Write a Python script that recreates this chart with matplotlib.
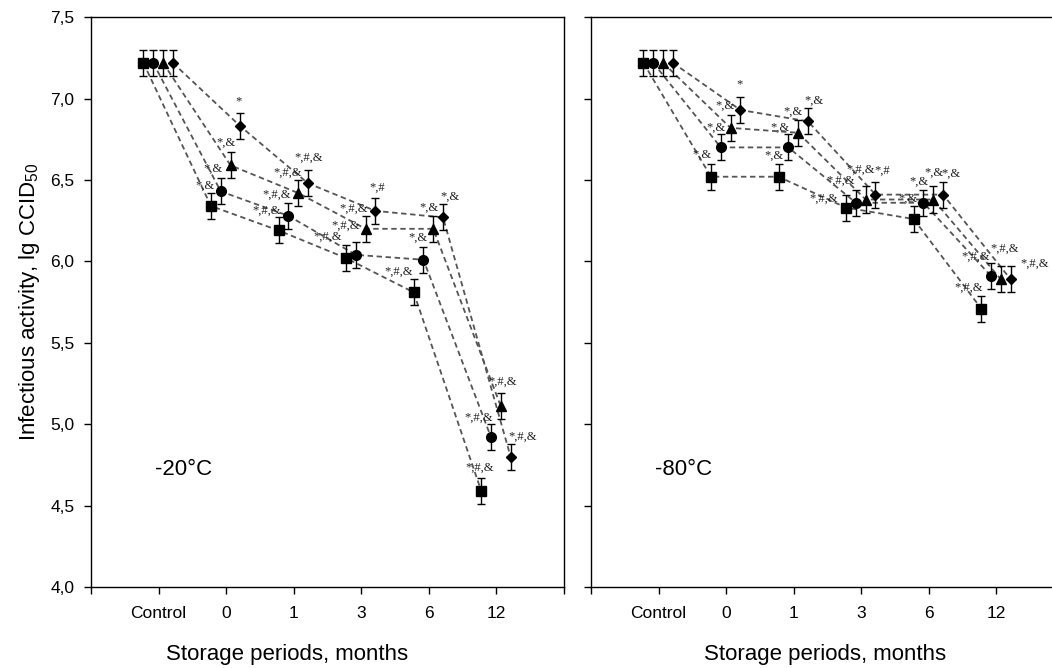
import matplotlib.pyplot as plt
import numpy as np

plt.rcParams['font.family'] = ['Liberation Sans', 'DejaVu Sans']
plt.rcParams['mathtext.fontset'] = 'custom'
plt.rcParams['mathtext.rm'] = 'Liberation Sans'

periods = ['Control', '0', '1', '3', '6', '12']

# storage at -20 C
m20_square = [7.22, 6.34, 6.19, 6.02, 5.81, 4.59]
m20_circle = [7.22, 6.43, 6.28, 6.04, 6.01, 4.92]
m20_triangle = [7.22, 6.59, 6.42, 6.20, 6.20, 5.11]
m20_diamond = [7.22, 6.83, 6.48, 6.31, 6.27, 4.80]

# storage at -80 C
m80_square = [7.22, 6.52, 6.52, 6.33, 6.26, 5.71]
m80_circle = [7.22, 6.70, 6.70, 6.36, 6.36, 5.91]
m80_triangle = [7.22, 6.82, 6.79, 6.38, 6.38, 5.89]
m80_diamond = [7.22, 6.93, 6.86, 6.41, 6.41, 5.89]

err = 0.08

# significance marks
m20_marks = [
    ['', '*,&', '*,#,&', '*,#,&', '*,#,&', '*,#,&'],
    ['', '*,&', '*,#,&', '*,#,&', '*,&', '*,#,&'],
    ['', '*,&', '*,#,&', '*,#,&', '*,&', '*,#,&'],
    ['', '*', '*,#,&', '*,#', '*,&', '*,#,&'],
]
m80_marks = [
    ['', '*,&', '*,&', '*,#,&', '*,&', '*,#,&'],
    ['', '*,&', '*,&', '*,#,&', '*,&', '*,#,&'],
    ['', '*,&', '*,&', '*,#,&', '*,&', '*,#,&'],
    ['', '*', '*,&', '*,#', '*,&', '*,#,&'],
]

# label offsets from the point, in pixels
m20_offsets = [
    [None, (-6, 20), (-11.5, 20), (-18.5, 21), (-14.5, 21), (-2, 23)],
    [None, (-8, 23), (-11.5, 21), (-10, 29), (-5.5, 22), (-12, 19)],
    [None, (-4.5, 23), (-10, 20), (-12.5, 20), (-4, 21), (1.5, 25)],
    [None, (-2, 25), (1, 25), (1.5, 23), (6.5, 21), (12.5, 20)],
]
m80_offsets = [
    [None, (-8.5, 22), (-4.5, 21), (-22, 9), (-5.5, 20), (-12.5, 21)],
    [None, (-5, 20), (-8, 20), (-15, 22), (-4.5, 21), (-15, 19)],
    [None, (-6, 22), (-5.5, 21), (-5, 30), (0.5, 27), (3.5, 31)],
    [None, (-1, 26), (6.5, 21), (6.5, 24), (8, 21), (24, 16)],
]

markers = ['s', 'o', '^', 'D']
sizes = [7.5, 7, 6.5, 5.5]
shifts = [-0.225, -0.08, 0.065, 0.21]


def panel(ax, data, marks, offsets, title, xlabel_x):
    x = np.arange(1, len(periods) + 1)
    for i, vals in enumerate(data):
        xs = x + shifts[i]
        ax.plot(xs, vals, linestyle=(0, (3, 2)), color='#555555', lw=1.3, zorder=1)
        ax.errorbar(xs, vals, yerr=err, fmt='none', ecolor='black', elinewidth=1,
                    capsize=3, capthick=1, zorder=2)
        ax.plot(xs, vals, marker=markers[i], ms=sizes[i], color='black',
                linestyle='none', zorder=3)
        for j, m in enumerate(marks[i]):
            if m:
                ax.annotate(m, (xs[j], vals[j]), xytext=offsets[i][j],
                            textcoords='offset pixels', ha='center', va='center',
                            fontsize=9, family='Liberation Serif', color='#222222')
    ax.text(0.95, 4.72, title, fontsize=16, va='center')
    ax.set_xlim(0, 7)
    ax.set_ylim(4.0, 7.5)
    ax.set_xticks(range(8))
    ax.set_xticklabels([''] + periods + [''], fontsize=12.5)
    yt = np.arange(4.0, 7.51, 0.5)
    ax.set_yticks(yt)
    ax.tick_params(direction='out', length=5, width=1)
    ax.tick_params(axis='x', pad=9)
    ax.tick_params(axis='y', pad=7)
    ax.set_xlabel('Storage periods, months', fontsize=16, va='center')
    ax.xaxis.set_label_coords(xlabel_x, -0.119)
    for s in ax.spines.values():
        s.set_linewidth(1)
    return yt


fig = plt.figure(figsize=(10.52, 6.68), dpi=100)
ax1 = fig.add_axes([0.0865, 0.1213, 0.4496, 0.853])
ax2 = fig.add_axes([0.5618, 0.1213, 0.4496, 0.853])

yt = panel(ax1, [m20_square, m20_circle, m20_triangle, m20_diamond],
           m20_marks, m20_offsets, '-20°C', 0.414)
ax1.set_yticklabels([('%.1f' % v).replace('.', ',') for v in yt], fontsize=12.5)
ax1.set_ylabel('Infectious activity, lg CCID$_{50}$', fontsize=16, labelpad=6)

panel(ax2, [m80_square, m80_circle, m80_triangle, m80_diamond],
      m80_marks, m80_offsets, '-80°C', 0.495)
ax2.set_yticklabels([])

fig.savefig('out.png', dpi=100)
